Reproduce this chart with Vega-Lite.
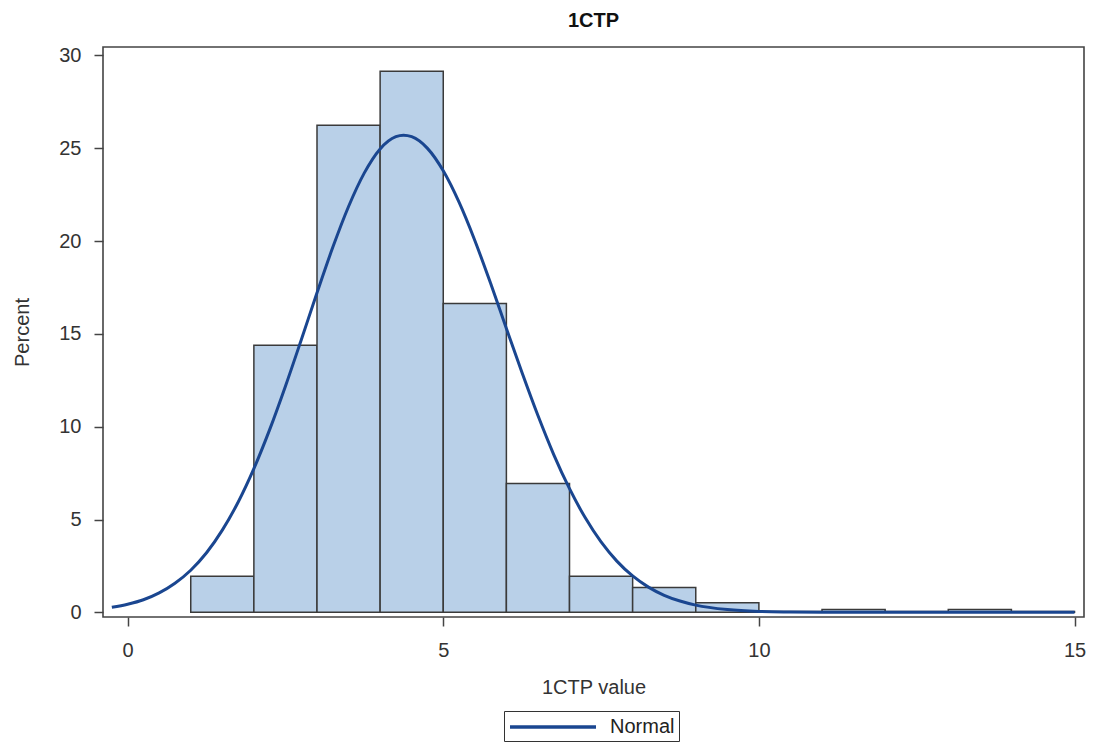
{
  "$schema": "https://vega.github.io/schema/vega-lite/v6.json",
  "autosize": {"type": "none"},
  "padding": {"left": 103, "top": 47, "right": 12, "bottom": 128},
  "width": 981,
  "height": 570,
  "title": {"text": "1CTP", "fontSize": 20, "font": "Liberation Sans", "fontWeight": "bold", "color": "#111", "offset": 14, "anchor": "middle"},
  "config": {
    "view": {"stroke": "#444", "strokeWidth": 1.6},
    "axis": {
      "grid": false, "domain": false,
      "tickColor": "#444", "tickWidth": 1.5, "tickSize": 9,
      "labelFont": "Liberation Sans", "labelFontSize": 20, "labelColor": "#333",
      "titleFont": "Liberation Sans", "titleFontSize": 20, "titleColor": "#333", "titleFontWeight": "normal"
    }
  },
  "datasets": {
    "bins": [
      {"lo": 1, "hi": 2, "pct": 1.95},
      {"lo": 2, "hi": 3, "pct": 14.39},
      {"lo": 3, "hi": 4, "pct": 26.24},
      {"lo": 4, "hi": 5, "pct": 29.15},
      {"lo": 5, "hi": 6, "pct": 16.64},
      {"lo": 6, "hi": 7, "pct": 6.94},
      {"lo": 7, "hi": 8, "pct": 1.95},
      {"lo": 8, "hi": 9, "pct": 1.34},
      {"lo": 9, "hi": 10, "pct": 0.52},
      {"lo": 10, "hi": 11, "pct": 0.04},
      {"lo": 11, "hi": 12, "pct": 0.16},
      {"lo": 12, "hi": 13, "pct": 0.04},
      {"lo": 13, "hi": 14, "pct": 0.16},
      {"lo": 14, "hi": 15, "pct": 0.04}
    ],
    "curve": [
      {"x": -0.25, "y": 0.27, "series": "Normal"},
      {"x": 0, "y": 0.44, "series": "Normal"},
      {"x": 0.25, "y": 0.68, "series": "Normal"},
      {"x": 0.5, "y": 1.05, "series": "Normal"},
      {"x": 0.75, "y": 1.57, "series": "Normal"},
      {"x": 1, "y": 2.27, "series": "Normal"},
      {"x": 1.25, "y": 3.21, "series": "Normal"},
      {"x": 1.5, "y": 4.43, "series": "Normal"},
      {"x": 1.75, "y": 5.93, "series": "Normal"},
      {"x": 2, "y": 7.74, "series": "Normal"},
      {"x": 2.25, "y": 9.84, "series": "Normal"},
      {"x": 2.5, "y": 12.18, "series": "Normal"},
      {"x": 2.75, "y": 14.67, "series": "Normal"},
      {"x": 3, "y": 17.21, "series": "Normal"},
      {"x": 3.25, "y": 19.66, "series": "Normal"},
      {"x": 3.5, "y": 21.86, "series": "Normal"},
      {"x": 3.75, "y": 23.67, "series": "Normal"},
      {"x": 4, "y": 24.96, "series": "Normal"},
      {"x": 4.25, "y": 25.62, "series": "Normal"},
      {"x": 4.37, "y": 25.7, "series": "Normal"},
      {"x": 4.5, "y": 25.62, "series": "Normal"},
      {"x": 4.75, "y": 24.99, "series": "Normal"},
      {"x": 5, "y": 23.78, "series": "Normal"},
      {"x": 5.25, "y": 22.09, "series": "Normal"},
      {"x": 5.5, "y": 20.03, "series": "Normal"},
      {"x": 5.75, "y": 17.72, "series": "Normal"},
      {"x": 6, "y": 15.29, "series": "Normal"},
      {"x": 6.25, "y": 12.89, "series": "Normal"},
      {"x": 6.5, "y": 10.6, "series": "Normal"},
      {"x": 6.75, "y": 8.5, "series": "Normal"},
      {"x": 7, "y": 6.66, "series": "Normal"},
      {"x": 7.25, "y": 5.09, "series": "Normal"},
      {"x": 7.5, "y": 3.79, "series": "Normal"},
      {"x": 7.75, "y": 2.76, "series": "Normal"},
      {"x": 8, "y": 1.96, "series": "Normal"},
      {"x": 8.25, "y": 1.36, "series": "Normal"},
      {"x": 8.5, "y": 0.92, "series": "Normal"},
      {"x": 8.75, "y": 0.61, "series": "Normal"},
      {"x": 9, "y": 0.39, "series": "Normal"},
      {"x": 9.5, "y": 0.15, "series": "Normal"},
      {"x": 10, "y": 0.05, "series": "Normal"},
      {"x": 10.5, "y": 0.02, "series": "Normal"},
      {"x": 11, "y": 0.005, "series": "Normal"},
      {"x": 12, "y": 0, "series": "Normal"},
      {"x": 13, "y": 0, "series": "Normal"},
      {"x": 14, "y": 0, "series": "Normal"},
      {"x": 15, "y": 0, "series": "Normal"}
    ]
  },
  "layer": [
    {
      "data": {"name": "bins"},
      "mark": {"type": "rect", "fill": "#b9d0e8", "stroke": "#3a3a3a", "strokeWidth": 1.5},
      "encoding": {
        "x": {"field": "lo", "type": "quantitative",
              "scale": {"domain": [-0.39, 15.15], "nice": false, "zero": false},
              "axis": {"values": [0, 5, 10, 15], "format": "d", "title": "1CTP value", "titlePadding": 17, "labelPadding": 14}},
        "x2": {"field": "hi"},
        "y": {"field": "pct", "type": "quantitative",
              "scale": {"domain": [-0.25, 30.45], "nice": false, "zero": false},
              "axis": {"values": [0, 5, 10, 15, 20, 25, 30], "format": "d", "title": "Percent", "titlePadding": 26, "labelPadding": 13}},
        "y2": {"datum": 0}
      }
    },
    {
      "data": {"name": "curve"},
      "mark": {"type": "line", "strokeWidth": 3, "interpolate": "monotone"},
      "encoding": {
        "x": {"field": "x", "type": "quantitative"},
        "y": {"field": "y", "type": "quantitative"},
        "color": {"field": "series", "type": "nominal", "title": null,
                  "scale": {"range": ["#1a4690"]},
                  "legend": {"orient": "none", "legendX": 401, "legendY": 664,
                             "strokeColor": "#333", "padding": 4,
                             "symbolType": "M-1,0H7.6", "symbolSize": 400, "symbolStrokeWidth": 3.5,
                             "labelFont": "Liberation Sans", "labelFontSize": 20, "labelColor": "#222",
                             "labelOffset": 78}}
      }
    }
  ]
}
